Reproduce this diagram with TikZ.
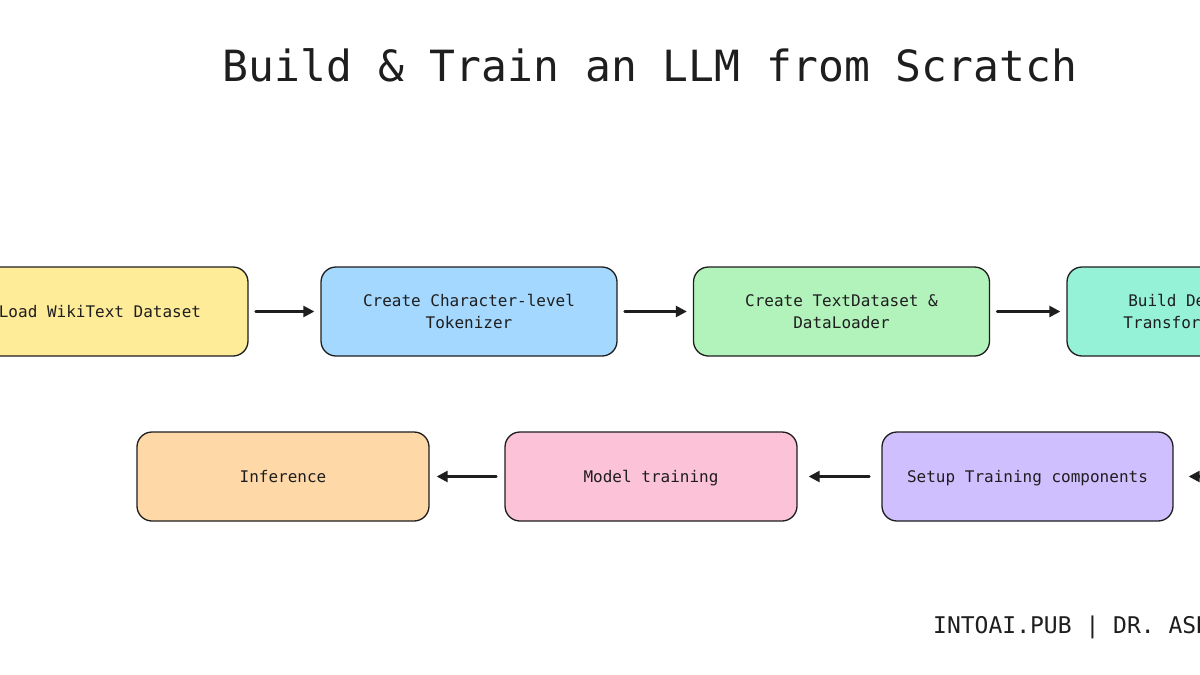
\documentclass[tikz,border=0pt]{standalone}
\usepackage{fontspec}
\setmonofont{DejaVu Sans Mono}
\usetikzlibrary{arrows.meta}
\definecolor{boxline}{HTML}{1E1E1E}
\definecolor{loadfill}{HTML}{FFEC99}
\definecolor{tokfill}{HTML}{A5D8FF}
\definecolor{datafill}{HTML}{B2F2BB}
\definecolor{modelfill}{HTML}{96F2D7}
\definecolor{setupfill}{HTML}{D0BFFF}
\definecolor{trainfill}{HTML}{FCC2D7}
\definecolor{inferfill}{HTML}{FFD8A8}
\begin{document}
\begin{tikzpicture}[x=1pt, y=-1pt, line join=round, line cap=round, every node/.style={font=\ttfamily\fontsize{16}{22}\selectfont, text=boxline}, stepbox/.style={draw=boxline, line width=1.3pt, rounded corners=15pt, minimum width=296pt, minimum height=89pt, inner sep=0pt, align=center}, oneline/.style={text height=12pt, text depth=0pt}, flow/.style={-{Triangle[length=11pt, width=11pt]}, line width=2.4pt, draw=boxline, shorten <=7pt, shorten >=6pt}]
			
			\useasboundingbox (0,0) rectangle (1200,675);
			\fill[white] (0,0) rectangle (1200,675);
			\clip (0,0) rectangle (1200,675);
			
			\node (title) at (650,65) {\fontsize{43}{50}\selectfont Build \& Train an LLM from Scratch};
			
			% top row, left to right
			\node[stepbox, oneline, fill=loadfill] (load) at (100,311.5) {Load WikiText Dataset};
			
			\node[stepbox, fill=tokfill] (tok) at (469,311.5) {Create Character-level\\Tokenizer};
			
			\node[stepbox, fill=datafill] (data) at (841.5,311.5) {Create TextDataset \&\\DataLoader};
			
			\node[stepbox, fill=modelfill] (model) at (1215,311.5) {Build Decoder-only\\Transformer Network};
			
			% bottom row, right to left
			\coordinate (in) at (1250,476.5);
			
			\node[stepbox, oneline, fill=setupfill, minimum width=291pt] (setup) at (1027.5,476.5) {Setup Training components};
			
			\node[stepbox, oneline, fill=trainfill, minimum width=292pt] (train) at (651,476.5) {Model training};
			
			\node[stepbox, oneline, fill=inferfill, minimum width=292pt] (infer) at (283,476.5) {Inference};
			
			\draw[flow] (load) -- (tok);
			\draw[flow] (tok) -- (data);
			\draw[flow] (data) -- (model);
			\draw[flow, shorten >=15pt] (in) -- (setup);
			\draw[flow, shorten <=12pt, shorten >=11pt] (setup) -- (train);
			\draw[flow, shorten <=8pt, shorten >=7pt] (train) -- (infer);
			
			\node[anchor=west, inner sep=0pt] (credit) at (933,627) {\fontsize{23}{28}\selectfont INTOAI.PUB | DR. ASHISH BAMANIA};
			
		\end{tikzpicture}
\end{document}
